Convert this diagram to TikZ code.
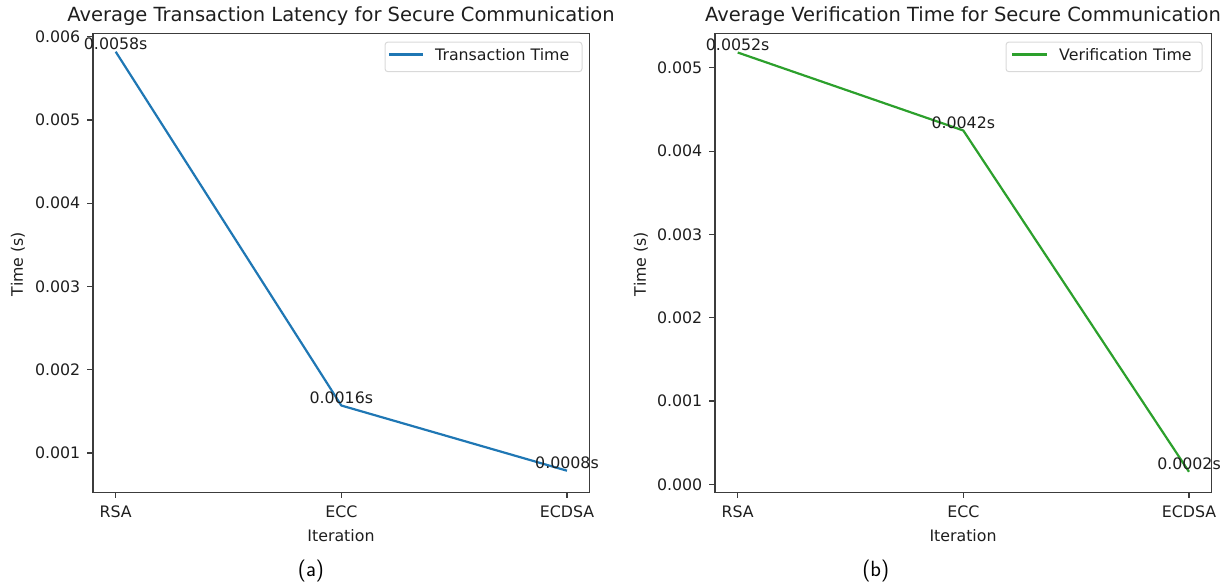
\documentclass[tikz,border=0pt]{standalone}
\usepackage{fontspec}
\newfontfamily\plotfont{DejaVu Sans}
\definecolor{tabblue}{HTML}{1F77B4}
\definecolor{tabgreen}{HTML}{2CA02C}
\definecolor{axisgray}{HTML}{3C3C3C}
\definecolor{legendgray}{HTML}{D9D9D9}
\definecolor{textgray}{HTML}{1E1E1E}

\begin{document}
\begin{tikzpicture}[x=1pt,y=-1pt,
  axframe/.style={draw=axisgray, line width=1.3pt},
  tickmark/.style={draw=axisgray, line width=1.2pt},
  ticklbl/.style={font=\plotfont\fontsize{15.8}{18}\selectfont, text=textgray, inner sep=0pt},
  axlbl/.style={font=\plotfont\fontsize{15.8}{18}\selectfont, text=textgray, inner sep=0pt},
  titlelbl/.style={font=\plotfont\fontsize{19.5}{22}\selectfont, text=textgray, inner sep=0pt},
  vallbl/.style={font=\plotfont\fontsize{15.8}{18}\selectfont, text=textgray, inner sep=0pt, anchor=base, yshift=2.5pt},
  legbox/.style={draw=legendgray, fill=white, line width=1pt, rounded corners=3pt},
  caplbl/.style={font=\sffamily\fontsize{22}{26}\selectfont, text=black, inner sep=0pt},
  curveA/.style={draw=tabblue, line width=2.2pt, line join=round},
  curveB/.style={draw=tabgreen, line width=2.2pt, line join=round}
]
\useasboundingbox (0,0) rectangle (1231,587);

% ---------------- panel (a) ----------------
\node[titlelbl] (titleA) at (341,16) {Average Transaction Latency for Secure Communication};
\draw[axframe] (93,33.5) rectangle (589.5,492.7);
\foreach \v/\y in {0.006/36.7,0.005/120,0.004/203.2,0.003/286.5,0.002/369.7,0.001/453}{
  \draw[tickmark] (93,\y) -- (87.4,\y);
  \node[ticklbl, anchor=east] at (80.5,\y) {\v};
}
\foreach \lbl/\x in {RSA/115.7,ECC/341.3,ECDSA/567}{
  \draw[tickmark] (\x,492.7) -- (\x,498.3);
  \node[ticklbl, anchor=north] at (\x,506) {\lbl};
}
\node[axlbl] (xlabA) at (341,536) {Iteration};
\node[axlbl, rotate=90] (ylabA) at (18,264) {Time (s)};

\coordinate (a1) at (115.7,51.7);
\coordinate (a2) at (341.3,405.5);
\coordinate (a3) at (567,470.7);
\draw[curveA] (a1) -- (a2) -- (a3);
\node[vallbl] (va1) at (a1) {0.0058s};
\node[vallbl] (va2) at (a2) {0.0016s};
\node[vallbl] (va3) at (a3) {0.0008s};

\draw[legbox] (385,42) rectangle (582,71.7);
\coordinate (legA1) at (389,54.5);
\coordinate (legA2) at (423,54.5);
\draw[curveA] (legA1) -- (legA2);
\node[axlbl, anchor=west] (legtxtA) at (435,55) {Transaction Time};

\node[caplbl] (capA) at (311,570.5) {(a)};

% ---------------- panel (b) ----------------
\node[titlelbl] (titleB) at (963,16) {Average Verification Time for Secure Communication};
\draw[axframe] (715,33.5) rectangle (1211.5,492.7);
\foreach \v/\y in {0.005/67.8,0.004/151.1,0.003/234.4,0.002/317.7,0.001/401,0.000/484.3}{
  \draw[tickmark] (715,\y) -- (709.4,\y);
  \node[ticklbl, anchor=east] at (702.5,\y) {\v};
}
\foreach \lbl/\x in {RSA/737.7,ECC/963.3,ECDSA/1189}{
  \draw[tickmark] (\x,492.7) -- (\x,498.3);
  \node[ticklbl, anchor=north] at (\x,506) {\lbl};
}
\node[axlbl] (xlabB) at (963,536) {Iteration};
\node[axlbl, rotate=90] (ylabB) at (641,264) {Time (s)};

\coordinate (b1) at (737.7,52.5);
\coordinate (b2) at (963.3,130.5);
\coordinate (b3) at (1189,471.8);
\draw[curveB] (b1) -- (b2) -- (b3);
\node[vallbl] (vb1) at (b1) {0.0052s};
\node[vallbl] (vb2) at (b2) {0.0042s};
\node[vallbl] (vb3) at (b3) {0.0002s};

\draw[legbox] (1006,42) rectangle (1202,71.7);
\coordinate (legB1) at (1012,54.5);
\coordinate (legB2) at (1047,54.5);
\draw[curveB] (legB1) -- (legB2);
\node[axlbl, anchor=west] (legtxtB) at (1059,55) {Verification Time};

\node[caplbl] (capB) at (875.7,570.5) {(b)};
\end{tikzpicture}
\end{document}
